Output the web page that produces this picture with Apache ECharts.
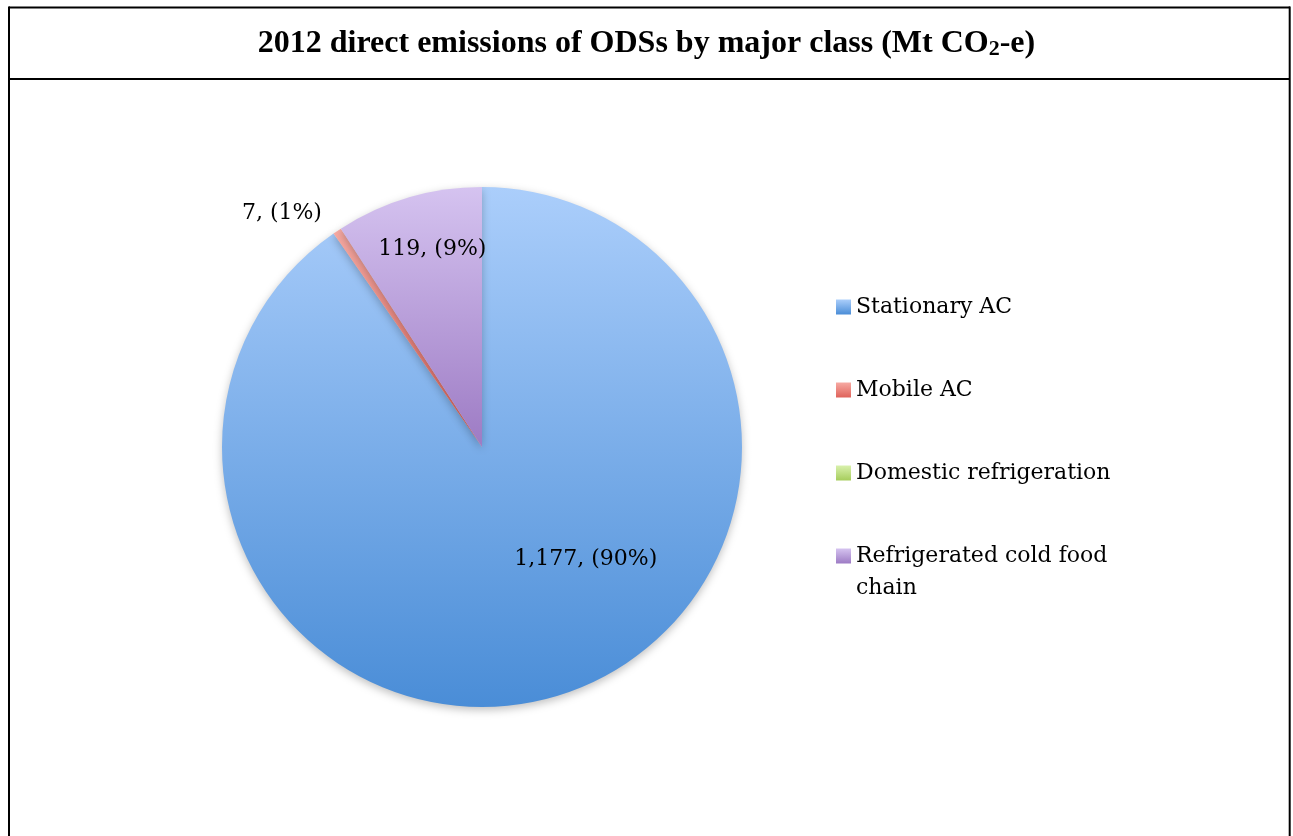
<!DOCTYPE html>
<html>
<head>
<meta charset="utf-8">
<script src="https://cdn.jsdelivr.net/npm/echarts@6/dist/echarts.min.js"></script>
<style>
html,body{margin:0;padding:0;background:#fff;}
#chart{width:1293px;height:836px;}
</style>
</head>
<body>
<div id="chart"></div>
<script>
var categories = ['Stationary AC', 'Mobile AC', 'Domestic refrigeration', 'Refrigerated cold food chain'];
var values = [1177, 7, 0, 119];
var titleText = '2012 direct emissions of ODSs by major class (Mt CO{s|2}-e)';

var LABEL_FONT = 'DejaVu Serif';
var colorStops = [
  ['#abcefb', '#4a8dd7'],
  ['#f7aaa3', '#df625a'],
  ['#d9f1ad', '#a6cd5c'],
  ['#d5c3f0', '#9d7bc4']
];
function grad(i) {
  return new echarts.graphic.LinearGradient(0, 0, 0, 1, [
    {offset: 0, color: colorStops[i][0]},
    {offset: 1, color: colorStops[i][1]}
  ]);
}
var labelShift = [[64, -15], [-126, -123], [0, 0], [-12, -70]];

var chart = echarts.init(document.getElementById('chart'), null, {renderer: 'canvas'});
var pieData = categories.map(function (c, i) {
  var d = {name: c, value: values[i], itemStyle: {color: grad(i)}};
  if (values[i] === 0) d.label = {show: false};
  return d;
});
var legendTextStyle = {fontFamily: LABEL_FONT, fontSize: 22, color: '#000', lineHeight: 32};
var option = {
  backgroundColor: '#ffffff',
  animation: false,
  title: {
    text: titleText,
    left: 'center',
    top: 28,
    padding: 0,
    textStyle: {
      fontFamily: 'Liberation Serif', fontWeight: 'bold', fontSize: 32, color: '#000', lineHeight: 32,
      rich: {s: {fontFamily: 'Liberation Serif', fontWeight: 'bold', fontSize: 22, color: '#000', verticalAlign: 'bottom'}}
    }
  },
  legend: [{
    orient: 'vertical', left: 836, top: 291, padding: 0, itemGap: 51,
    itemWidth: 15, itemHeight: 15, icon: 'rect',
    data: categories.slice(0, 3),
    textStyle: legendTextStyle
  }, {
    orient: 'vertical', left: 836, top: 508, padding: 0,
    itemWidth: 15, itemHeight: 15, icon: 'rect',
    data: [categories[3]],
    formatter: function (n) { return '\nRefrigerated cold food\nchain'; },
    textStyle: legendTextStyle
  }],
  graphic: [
    {type: 'line', shape: {x1: 9, y1: 7.5, x2: 1290, y2: 7.5}, style: {stroke: '#000', lineWidth: 2}},
    {type: 'line', shape: {x1: 9, y1: 79, x2: 1290, y2: 79}, style: {stroke: '#000', lineWidth: 2}},
    {type: 'line', shape: {x1: 9, y1: 6.5, x2: 9, y2: 836}, style: {stroke: '#000', lineWidth: 2}},
    {type: 'line', shape: {x1: 1289.7, y1: 6.5, x2: 1289.7, y2: 836}, style: {stroke: '#000', lineWidth: 2}}
  ],
  series: [{
    type: 'pie',
    center: [482, 447],
    radius: [0, 260],
    startAngle: 90,
    clockwise: true,
    avoidLabelOverlap: false,
    itemStyle: {shadowBlur: 8, shadowOffsetY: 3, shadowColor: 'rgba(0,0,0,0.25)'},
    label: {
      show: true, position: 'inside', fontFamily: LABEL_FONT, fontSize: 22, color: '#000',
      formatter: function (p) {
        return p.value.toLocaleString('en-US') + ', (' + Math.round(p.percent) + '%)';
      }
    },
    labelLine: {show: false},
    labelLayout: function (p) {
      var s = labelShift[p.dataIndex];
      return {dx: s[0], dy: s[1]};
    },
    emphasis: {disabled: true},
    data: pieData
  }]
};
chart.setOption(option);
</script>
</body>
</html>
